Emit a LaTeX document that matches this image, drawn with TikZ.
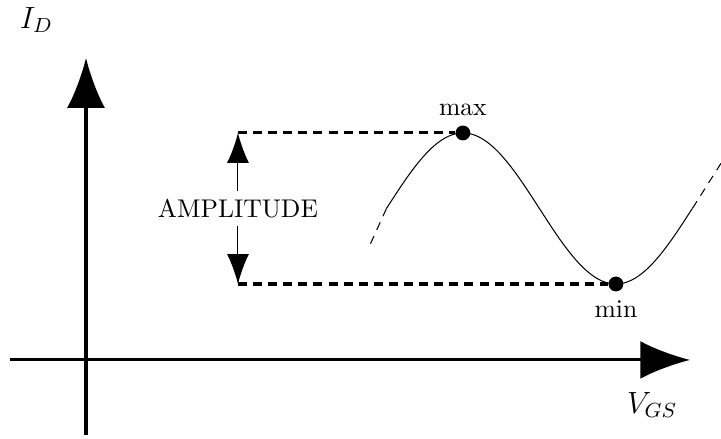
\documentclass[tikz,border=0pt]{standalone}
\usepackage{amsmath}
\usetikzlibrary{arrows.meta,positioning}

\begin{document}
\begin{tikzpicture}[
  axis/.style={line width=1.2pt, -{Latex[length=19.5pt,width=14.8pt]}},
  guide/.style={line width=1.2pt, dash pattern=on 3.5pt off 2.4pt},
  ext/.style={dash pattern=on 3.3pt off 2.6pt},
  amp/.style={{Latex[length=11.7pt,width=8.6pt]}-{Latex[length=11.7pt,width=8.6pt]}},
  dot/.style={circle, fill=black, inner sep=0pt, minimum size=5.8pt}
]
\useasboundingbox (-1.181,-1.085) rectangle (8.72,4.943);

% Axes
\coordinate (xstart) at (-1.044,0);
\coordinate (xend) at (8.297,0);
\coordinate (ystart) at (0,-1.03);
\coordinate (yend) at (0,4.148);
\draw[axis] (xstart) -- (xend);
\draw[axis] (ystart) -- (yend);
\node (vgs) at (7.775,-0.62) {\large $V_{GS}$};
\node (id) at (-0.68,4.67) {\large $I_D$};

% Sine wave between zero crossings
\coordinate (w0) at (4.126,2.08);
\coordinate (w4) at (8.327,2.08);
\draw plot[domain=4.126:8.327, samples=150] (\x, {2.08 + 1.037*sin(deg((\x-4.126)*pi/2.1))});

% Dashed continuation
\coordinate (wl) at (3.887,1.552);
\coordinate (wr) at (8.72,2.70);
\draw[ext] (w0) -- (wl);
\draw[ext] (w4) -- (wr);

% Peak and trough
\node[dot, label={above:max}] (max) at (5.176,3.117) {};
\node[dot, label={below:min}] (min) at (7.277,1.043) {};

% Amplitude marker
\coordinate (atop) at (2.087,3.117);
\coordinate (abot) at (2.087,1.043);
\draw[guide] (atop) -- (max);
\draw[guide] (abot) -- (min);
\draw[amp] (atop) -- node[fill=white] {AMPLITUDE} (abot);
\end{tikzpicture}
\end{document}
